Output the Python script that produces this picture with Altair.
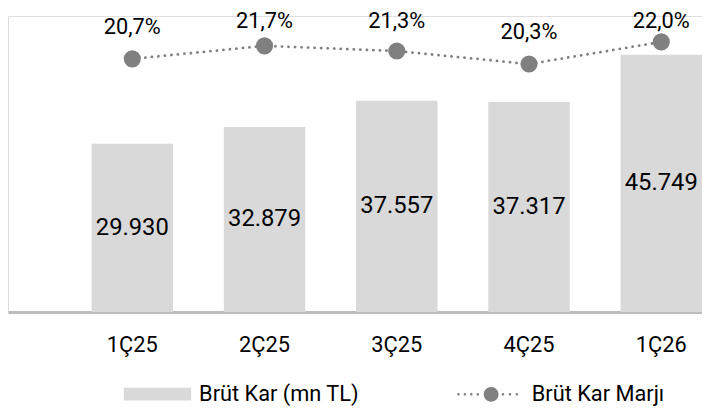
import altair as alt
import pandas as pd

quarters = ["1Ç25", "2Ç25", "3Ç25", "4Ç25", "1Ç26"]
gross_profit = [29930, 32879, 37557, 37317, 45749]
gross_profit_labels = ["29.930", "32.879", "37.557", "37.317", "45.749"]
margin = [20.7, 21.7, 21.3, 20.3, 22.0]
margin_labels = ["20,7%", "21,7%", "21,3%", "20,3%", "22,0%"]
bar_series = "Brüt Kar (mn TL)"
line_series = "Brüt Kar Marjı"

df = pd.DataFrame({
    "q": quarters,
    "gp": gross_profit,
    "gp_lbl": gross_profit_labels,
    "m": margin,
    "m_lbl": margin_labels,
    "bs": [bar_series] * len(quarters),
    "ls": [line_series] * len(quarters),
})

FONT = "Roboto"
GREY_BAR = "#d9d9d9"
GREY_LINE = "#808080"

xenc = alt.X(
    "q:N",
    sort=quarters,
    title=None,
    scale=alt.Scale(paddingInner=0.384, paddingOuter=0.316, align=1.0),
    axis=alt.Axis(
        domainColor="#bdbdbd", domainWidth=3, ticks=False, grid=False,
        labelAngle=0, labelFontSize=22, labelFont=FONT, labelColor="#000000",
        labelPadding=23,
    ),
)

ybar = alt.Scale(domain=[0, 52642], nice=False, zero=True)
yline = alt.Scale(domain=[1.23, 24.0], nice=False, zero=False)

base = alt.Chart(df)

bar_legend_path = "M-1,-0.19H1V0.19H-1Z"


def dot(cx, r):
    return f"M{cx - r:.3f},0A{r:.3f},{r:.3f} 0 1,0 {cx + r:.3f},0A{r:.3f},{r:.3f} 0 1,0 {cx - r:.3f},0Z"


u = 32.5
line_legend_path = "".join(
    [dot(px / u, 1.3 / u) for px in [-30.5, -24, -17.5, -11, 14.5, 21.5, 28.5]]
    + [dot(2.5 / u, 7.5 / u)]
)

bars = base.mark_bar(color=GREY_BAR).encode(
    x=xenc,
    y=alt.Y("gp:Q", scale=ybar, axis=None),
    color=alt.Color(
        "bs:N",
        scale=alt.Scale(range=[GREY_BAR]),
        legend=alt.Legend(
            title=None, orient="none", legendX=117, legendY=348,
            symbolType=bar_legend_path, symbolSize=4624, symbolStrokeWidth=0,
            labelFontSize=22, labelFont=FONT, labelColor="#000000",
            labelOffset=8, padding=0, labelLimit=400,
        ),
    ),
)

bar_text = base.mark_text(
    fontSize=24, font=FONT, color="#000000", baseline="middle"
).transform_calculate(mid="datum.gp / 2").encode(
    x=xenc,
    y=alt.Y("mid:Q", scale=ybar, axis=None),
    text="gp_lbl:N",
)

line = base.mark_line(
    strokeWidth=2.8, strokeDash=[0.1, 6.5], strokeCap="round"
).encode(
    x=xenc,
    y=alt.Y("m:Q", scale=yline, axis=None),
    stroke=alt.Stroke(
        "ls:N",
        scale=alt.Scale(range=[GREY_LINE]),
        legend=alt.Legend(
            title=None, orient="none", legendX=453, legendY=349.7,
            symbolType=line_legend_path, symbolSize=4225,
            symbolFillColor=GREY_LINE, symbolStrokeWidth=0,
            labelFontSize=22, labelFont=FONT, labelColor="#000000",
            labelOffset=11, padding=0, labelLimit=400,
        ),
    ),
)

points = base.mark_circle(size=300, color=GREY_LINE, opacity=1).encode(
    x=xenc,
    y=alt.Y("m:Q", scale=yline, axis=None),
)

line_text = base.mark_text(
    fontSize=22, font=FONT, color="#000000", baseline="alphabetic"
).transform_calculate(
    lbl_y="min(datum.m + 1.942, 23.086)"
).encode(
    x=xenc,
    y=alt.Y("lbl_y:Q", scale=yline, axis=None),
    text="m_lbl:N",
)

chart = alt.layer(
    alt.layer(bars, bar_text),
    alt.layer(line, points, line_text),
).resolve_scale(y="independent").properties(
    width=701,
    height=299,
    autosize=alt.AutoSizeParams(type="none"),
    padding={"left": 0, "top": 6, "right": 0, "bottom": 94},
).configure_view(stroke=None).configure(background="white")

chart.save("out.html", embed_options={"renderer": "svg", "actions": False})
